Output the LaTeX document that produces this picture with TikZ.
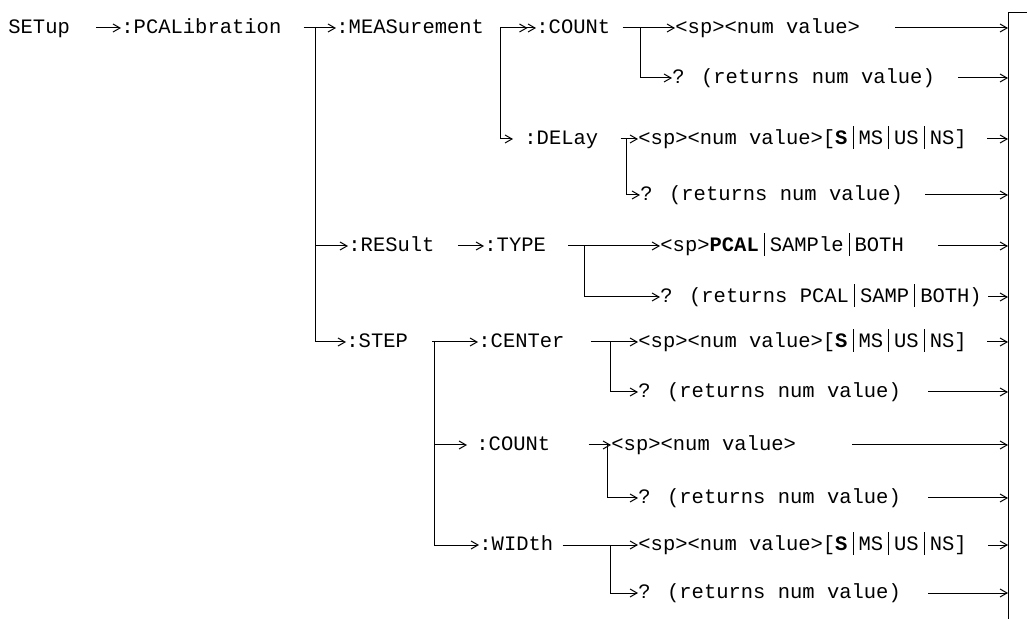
\documentclass[tikz,border=0pt]{standalone}
\usepackage{fontspec}
\usepackage{tikz}
\usetikzlibrary{arrows.meta, calc}
\newfontfamily\cmdmono{Liberation Mono}
\newcommand{\vbar}{\hspace{2.5pt}\rule[-0.22em]{0.5pt}{1.12em}\hspace{2.5pt}}
\tikzset{
    cmdtext/.style={anchor=west, inner sep=0pt, text height=0.8em, text depth=0.26em, font=\cmdmono\fontsize{10.25}{12}\selectfont},
    cmdline/.style={line width=0.5pt},
    cmdarrow/.style={-{Straight Barb[length=3.5pt, width=4pt]}, line width=0.5pt},
    cmddarrow/.style={-{Straight Barb[length=3.5pt, width=4pt]Straight Barb[length=3.5pt, width=4pt]}, line width=0.5pt}
}

\begin{document}
\begin{tikzpicture}[x=0.5pt, y=-0.5pt]
\useasboundingbox (0,0) rectangle (1027,619);

\node[cmdtext] (setup) at (8,28) {SETup};
\node[cmdtext] (pcal) at (121,28) {:PCALibration};
\node[cmdtext] (meas) at (336,28) {:MEASurement};
\node[cmdtext] (mcount) at (536,28) {:COUNt};
\node[cmdtext] (mcnum) at (675,28) {<sp><num value>};
\node[cmdtext] (mcq) at (672,78) {? (returns num value)};
\node[cmdtext] (delay) at (524,139) {:DELay};
\node[cmdtext] (dnum) at (638,139) {<sp><num value>[\textbf{S}\vbar MS\vbar US\vbar NS]};
\node[cmdtext] (dq) at (640,195) {? (returns num value)};
\node[cmdtext] (result) at (348,246) {:RESult};
\node[cmdtext] (rtype) at (484,246) {:TYPE};
\node[cmdtext] (tval) at (660,246) {<sp>\textbf{PCAL}\vbar SAMPle\vbar BOTH};
\node[cmdtext] (tq) at (660,297) {? (returns PCAL\vbar SAMP\vbar BOTH)};
\node[cmdtext] (step) at (346,342) {:STEP};
\node[cmdtext] (center) at (478,342) {:CENTer};
\node[cmdtext] (cnum) at (638,342) {<sp><num value>[\textbf{S}\vbar MS\vbar US\vbar NS]};
\node[cmdtext] (cq) at (638,392) {? (returns num value)};
\node[cmdtext] (scount) at (476,445) {:COUNt};
\node[cmdtext] (snum) at (611,445) {<sp><num value>};
\node[cmdtext] (sq) at (638,498) {? (returns num value)};
\node[cmdtext] (width) at (479,545) {:WIDth};
\node[cmdtext] (wnum) at (638,545) {<sp><num value>[\textbf{S}\vbar MS\vbar US\vbar NS]};
\node[cmdtext] (wq) at (638,593) {? (returns num value)};

\coordinate (pcalfork) at (315,28);
\coordinate (measfork) at (500,28);
\coordinate (mcfork) at (640,28);
\coordinate (dfork) at (626,139);
\coordinate (tfork) at (584,246);
\coordinate (stepfork) at (434,342);
\coordinate (cfork) at (610,342);
\coordinate (scfork) at (607,445);
\coordinate (wfork) at (610,545);
\coordinate (bartop) at (1008,13);
\coordinate (barbot) at (1008,619);
\coordinate (barend) at (1027,13);

\draw[cmdline] (barend) -- (bartop) -- (barbot);

\draw[cmdarrow] ($(setup.east)+(26,0)$) -- (pcal.west);
\draw[cmdarrow] ($(pcal.east)+(22,0)$) -- (meas.west);
\draw[cmdarrow] (pcalfork) |- (step.west);
\draw[cmdarrow] (pcalfork |- result.west) -- (result.west);
\draw[cmddarrow] (measfork) -- (mcount.west);
\draw[cmdline] (measfork) -- (measfork |- delay.west);
\draw[cmdarrow, shorten >=5.5pt] (measfork |- delay.west) -- (delay.west);
\draw[cmdarrow] ($(mcount.east)+(12,0)$) -- (mcnum.west);
\draw[cmdarrow] (mcfork) |- (mcq.west);
\draw[cmdarrow] ($(delay.east)+(22,0)$) -- (dnum.west);
\draw[cmdarrow] (dfork) |- (dq.west);
\draw[cmdarrow] ($(result.east)+(23,0)$) -- (rtype.west);
\draw[cmdarrow] ($(rtype.east)+(22,0)$) -- (tval.west);
\draw[cmdarrow] (tfork) |- (tq.west);
\draw[cmdarrow] ($(step.east)+(24,0)$) -- (center.west);
\draw[cmdarrow, shorten >=4.5pt] (stepfork |- scount.west) -- (scount.west);
\draw[cmdarrow] (stepfork) |- (width.west);
\draw[cmdarrow] ($(center.east)+(26,0)$) -- (cnum.west);
\draw[cmdarrow] (cfork) |- (cq.west);
\draw[cmdarrow] ($(scount.east)+(38,0)$) -- (snum.west);
\draw[cmdarrow] (scfork) |- (sq.west);
\draw[cmdarrow] ($(width.east)+(9,0)$) -- (wnum.west);
\draw[cmdarrow] (wfork) |- (wq.west);

\foreach \n/\d in {mcnum/113, mcq/50, dnum/21, dq/83, tval/70, tq/20, cnum/21, cq/80, snum/156, sq/80, wnum/20, wq/80}
    \draw[cmdarrow] ($(\n.west -| bartop)-(\d,0)$) -- (\n.west -| bartop);

\end{tikzpicture}
\end{document}
